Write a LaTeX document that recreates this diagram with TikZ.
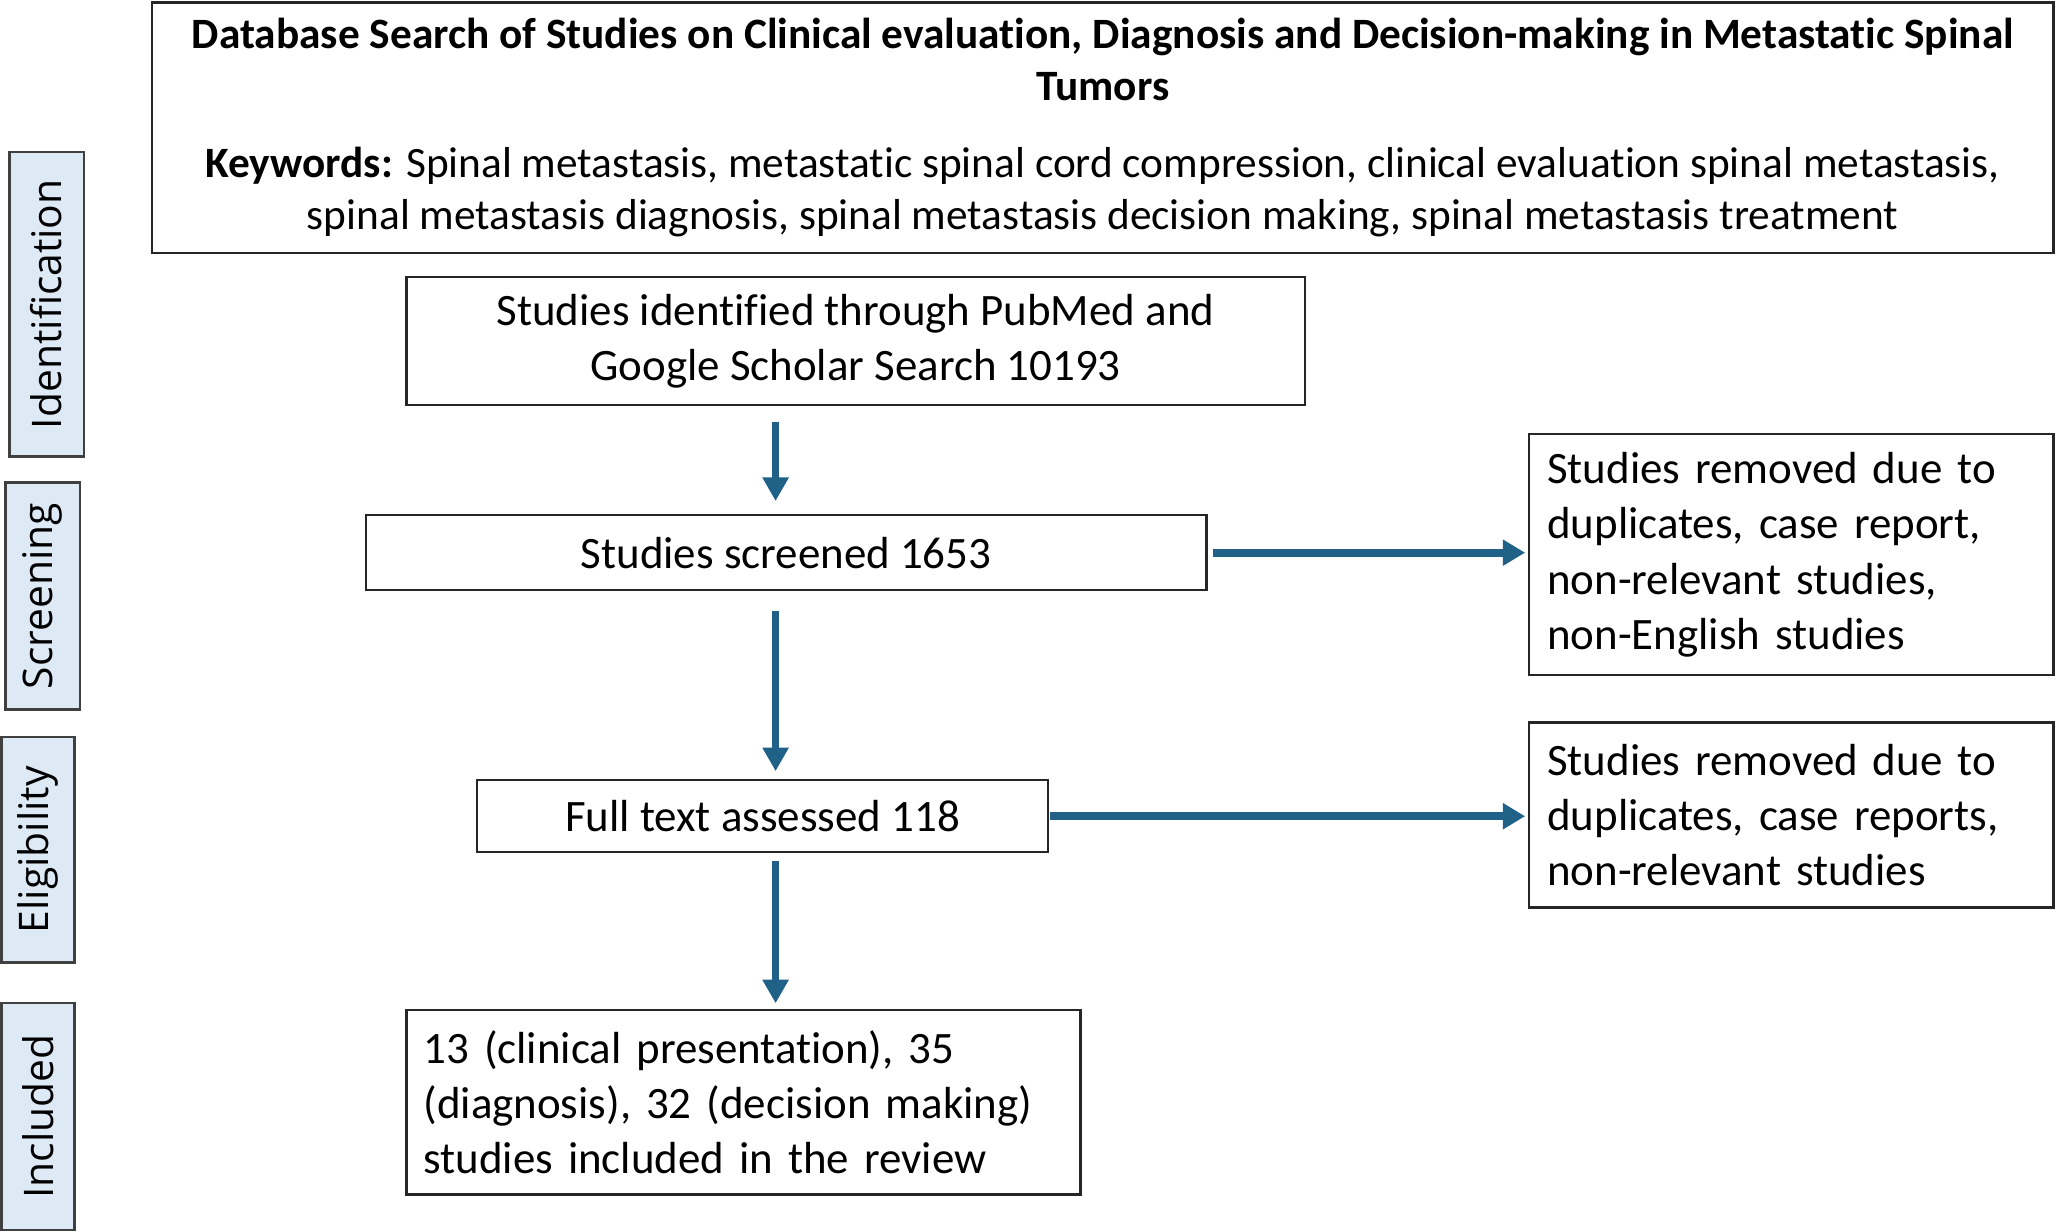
\documentclass[tikz,border=0pt]{standalone}
\usepackage{fontspec}
\setmainfont{Carlito}[Ligatures=NoCommon]
\newfontfamily\phasefont{Open Sans}
\usetikzlibrary{arrows.meta}

\definecolor{flowblue}{RGB}{31,97,135}
\definecolor{phasefill}{RGB}{221,234,246}

\tikzset{
  box/.style={draw=black!85, line width=1pt, inner sep=0pt, font=\fontsize{19.5}{24}\selectfont},
  phase/.style={draw=black!75, line width=1.2pt, fill=phasefill, rotate=90, inner sep=0pt,
    font=\phasefont\fontsize{17.7}{21}\selectfont},
  vflow/.style={draw=flowblue, line width=2.7pt, -{Triangle[length=0.36cm,width=0.38cm]}},
  hflow/.style={draw=flowblue, line width=3.6pt, -{Triangle[length=0.34cm,width=0.38cm]}}
}

\begin{document}
\begin{tikzpicture}
\useasboundingbox (0,0) rectangle (31.36,18.78);

% phase labels on the left
\node[phase, minimum width=4.64cm, minimum height=1.14cm] (identification) at (0.71,14.14) {Identification};
\node[phase, minimum width=3.46cm, minimum height=1.14cm] (screening) at (0.65,9.69) {Screening};
\node[phase, minimum width=3.44cm, minimum height=1.12cm] (eligibility) at (0.58,5.82) {Eligibility};
\node[phase, minimum width=3.46cm, minimum height=1.12cm] (included) at (0.58,1.75) {Included};

% search box
\node[box, minimum width=29cm, minimum height=3.82cm, align=center,
  font=\fontsize{18.8}{22.6}\selectfont] (search) at (16.82,16.83)
  {\textbf{Database Search of Studies on Clinical evaluation, Diagnosis and Decision-making in Metastatic Spinal}\\
   \textbf{Tumors}\\[0.38cm]
   \textbf{Keywords:} Spinal metastasis, metastatic spinal cord compression, clinical evaluation spinal metastasis,\\
   spinal metastasis diagnosis, spinal metastasis decision making, spinal metastasis treatment};

% main flow
\node[box, minimum width=13.7cm, minimum height=1.96cm, align=center] (identified) at (13.05,13.58)
  {Studies identified through PubMed and\\ Google Scholar Search 10193};
\node[box, minimum width=12.82cm, minimum height=1.14cm] (screened) at (11.99,10.35) {Studies screened 1653};
\node[box, minimum width=8.7cm, minimum height=1.1cm] (assessed) at (11.63,6.33) {Full text assessed 118};
\node[box, minimum width=10.28cm, minimum height=2.82cm, align=left, text width=9.76cm] (review) at (11.34,1.97)
  {13 (clinical presentation), 35\\ (diagnosis), 32 (decision making)\\ studies included in the review};

% excluded studies
\node[box, minimum width=8cm, minimum height=3.68cm, align=left, text width=7.44cm] (removedA) at (27.32,10.32)
  {Studies removed due to\\ duplicates, case report,\\ non-relevant studies,\\ non-English studies};
\node[box, minimum width=8cm, minimum height=2.82cm, align=left, text width=7.44cm] (removedB) at (27.32,6.35)
  {Studies removed due to\\ duplicates, case reports,\\ non-relevant studies};

% arrows
\coordinate (spine) at (11.83,0);
\draw[vflow, shorten <=0.24cm, shorten >=0.2cm] (identified.south -| spine) -- (screened.north -| spine);
\draw[vflow, shorten <=0.3cm, shorten >=0.12cm] (screened.south -| spine) -- (assessed.north -| spine);
\draw[vflow, shorten <=0.12cm, shorten >=0.08cm] (assessed.south -| spine) -- (review.north -| spine);
\draw[hflow, shorten <=0.08cm, shorten >=0.04cm] (screened.east) -- (removedA.west |- screened.east);
\draw[hflow, shorten <=0.02cm, shorten >=0.04cm] (assessed.east) -- (removedB.west |- assessed.east);
\end{tikzpicture}
\end{document}
